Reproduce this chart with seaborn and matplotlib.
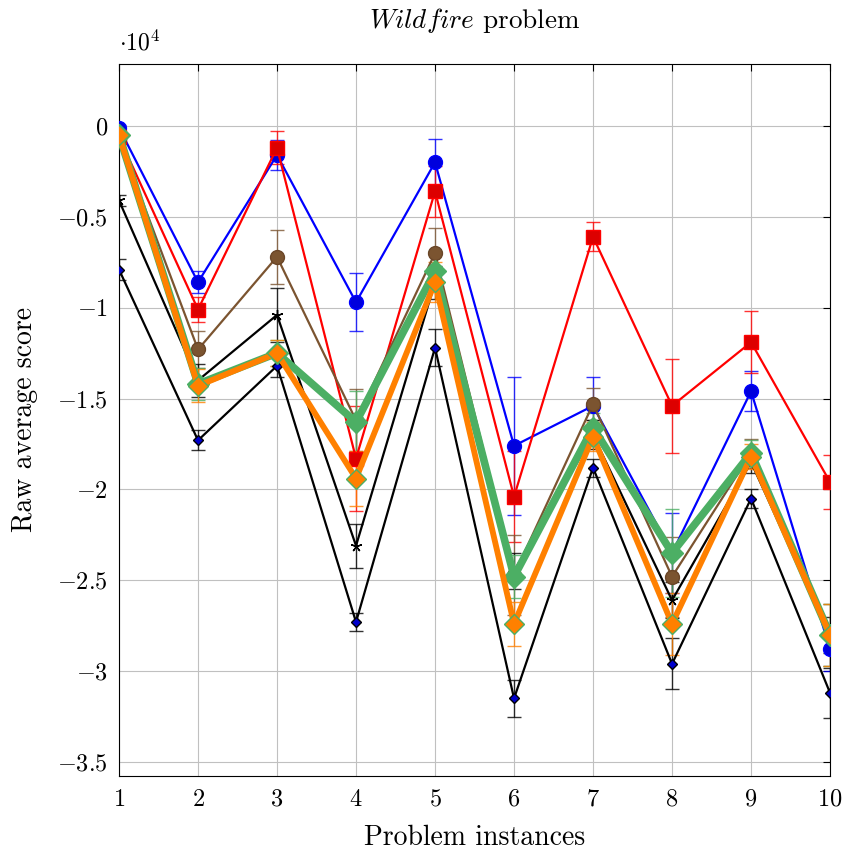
import numpy as np
import pandas as pd
import matplotlib
matplotlib.use("Agg")
import matplotlib.pyplot as plt
import seaborn as sns
from matplotlib.ticker import FuncFormatter, MultipleLocator

# Problem instances
instances = [1, 2, 3, 4, 5, 6, 7, 8, 9, 10]

# Raw average scores (mean) and error half-widths for each method
blue_mean = [-100, -8600, -1600, -9700, -2000, -17600, -15400, -23500, -14600, -28800]
blue_err = [150, 600, 800, 1600, 1300, 3800, 1600, 2200, 1100, 1200]

red_mean = [-600, -10100, -1200, -18300, -3600, -20400, -6100, -15400, -11900, -19600]
red_err = [300, 700, 900, 2900, 1400, 2500, 800, 2600, 1700, 1500]

brown_mean = [-700, -12300, -7200, -16200, -7000, -24700, -15300, -24800, -18000, -28000]
brown_err = [300, 1000, 1500, 1700, 1400, 2200, 900, 2200, 800, 1700]

star_mean = [-4100, -14000, -10400, -23100, -8600, -24500, -17000, -26100, -18500, -28000]
star_err = [300, 900, 1500, 1200, 900, 1000, 800, 1000, 600, 1000]

diamond_mean = [-7900, -17300, -13200, -27300, -12200, -31500, -18800, -29600, -20500, -31200]
diamond_err = [600, 550, 600, 500, 1000, 1000, 500, 1400, 500, 1400]

orange_mean = [-500, -14300, -12500, -19400, -8600, -27400, -17100, -27400, -18200, -28000]
orange_err = [300, 900, 700, 1500, 1100, 1200, 800, 1700, 700, 1700]

green_mean = [-500, -14200, -12500, -16300, -8000, -24800, -16600, -23500, -18000, -28000]
green_err = [300, 900, 700, 1700, 1100, 1200, 800, 2400, 700, 1700]

series = [
    ("blue", blue_mean, blue_err),
    ("red", red_mean, red_err),
    ("brown", brown_mean, brown_err),
    ("star", star_mean, star_err),
    ("diamond", diamond_mean, diamond_err),
    ("green", green_mean, green_err),
    ("orange", orange_mean, orange_err),
]

styles = {
    "blue": dict(color="#0000ff", lw=1.6, marker="o", ms=10, mfc="#0000dd", mec="#0000ff"),
    "red": dict(color="#ff0000", lw=1.6, marker="s", ms=10, mfc="#dd0000", mec="#ff0000"),
    "brown": dict(color="#7b5430", lw=1.6, marker="o", ms=10, mfc="#7b5430", mec="#6a4628"),
    "star": dict(color="black", lw=1.6, marker=(5, 2, 0), ms=8, mfc="black", mec="black"),
    "diamond": dict(color="black", lw=1.6, marker="D", ms=5, mfc="#0000cc", mec="black"),
    "green": dict(color="#4caf64", lw=5.5, marker="D", ms=11, mfc="#4caf64", mec="#4caf64"),
    "orange": dict(color="#ff8000", lw=4.2, marker="D", ms=10, mfc="#ff8000", mec="#4caf64"),
}

rows = []
for name, mean, err in series:
    for x, m, e in zip(instances, mean, err):
        rows.append({"instance": x, "score": m, "err": e, "method": name})
df = pd.DataFrame(rows)

sns.set_style("whitegrid")
plt.rcParams["font.family"] = "serif"
plt.rcParams["font.serif"] = ["cmr10", "DejaVu Serif"]
plt.rcParams["mathtext.fontset"] = "cm"
plt.rcParams["axes.formatter.use_mathtext"] = True
plt.rcParams["text.color"] = "black"
plt.rcParams["axes.labelcolor"] = "black"

fig = plt.figure(figsize=(8.47, 8.52), dpi=100)
ax = fig.add_axes([0.1405, 0.0892, 0.8395, 0.8357])

for name, mean, err in series:
    st = styles[name]
    d = df[df["method"] == name]
    ax.errorbar(d["instance"], d["score"], yerr=d["err"], fmt="none",
                ecolor=st["color"], elinewidth=1.0, capsize=5, capthick=1.0,
                alpha=0.8, zorder=2)
    sns.lineplot(data=d, x="instance", y="score", ax=ax, color=st["color"],
                 linewidth=st["lw"], marker=st["marker"], markersize=st["ms"],
                 markerfacecolor=st["mfc"], markeredgecolor=st["mec"],
                 markeredgewidth=1.0, legend=False, zorder=3)

ax.set_xlim(1, 10)
ax.set_ylim(-35770, 3410)
ax.xaxis.set_major_locator(MultipleLocator(1))
ax.yaxis.set_major_locator(MultipleLocator(5000))
ax.xaxis.set_major_formatter(FuncFormatter(lambda v, p: f"${int(v)}$"))
ax.yaxis.set_major_formatter(FuncFormatter(lambda v, p: f"${v / 1e4:g}$"))

ax.grid(True, color="#c0c0c0", linewidth=0.8)
for sp in ax.spines.values():
    sp.set_color("black")
    sp.set_linewidth(0.8)
ax.tick_params(direction="in", length=5, width=0.8, top=True, right=True,
               labelsize=17.5, colors="black")
ax.tick_params(axis="x", pad=9)
ax.tick_params(axis="y", pad=8)

ax.set_xlabel("Problem instances", fontsize=20, labelpad=10)
ax.set_ylabel("Raw average score", fontsize=20, labelpad=14)
ax.set_title(r"$\mathit{Wildfire}$ problem", fontsize=19.5, pad=26)
ax.text(0.0, 1.012, r"$\cdot 10^4$", transform=ax.transAxes, fontsize=17,
        ha="left", va="bottom")

fig.savefig("out.png", dpi=100, facecolor="white")
